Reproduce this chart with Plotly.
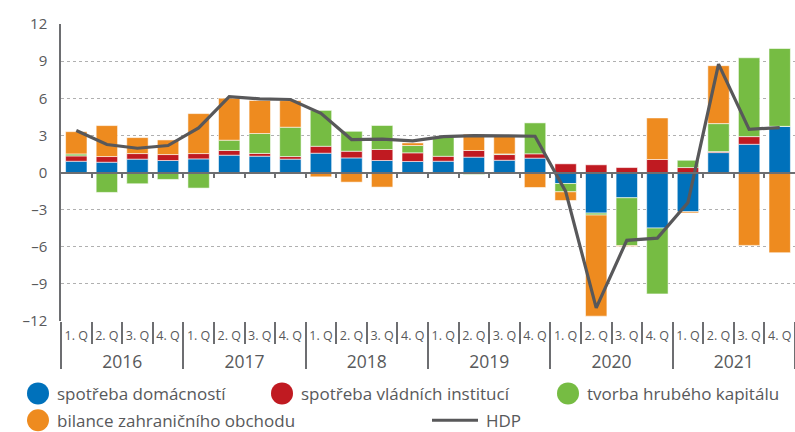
import plotly.graph_objects as go

# Contributions to GDP growth, percentage points
years = ["2016", "2017", "2018", "2019", "2020", "2021"]
quarter_labels = ["1. Q", "2. Q", "3. Q", "4. Q"]

household = [0.91, 0.83, 1.08, 0.97, 1.10, 1.40, 1.32, 1.08, 1.56, 1.18, 0.97, 0.89,
             0.91, 1.24, 0.99, 1.16, -0.89, -3.28, -2.04, -4.49, -3.17, 1.61, 2.28, 3.73]
government = [0.43, 0.46, 0.45, 0.48, 0.43, 0.38, 0.22, 0.21, 0.56, 0.54, 0.89, 0.70,
              0.40, 0.54, 0.46, 0.35, 0.70, 0.62, 0.40, 1.05, 0.40, 0.08, 0.62, 0.00]
capital = [0.16, -1.61, -0.91, -0.56, -1.26, 0.83, 1.61, 2.37, 2.90, 1.61, 1.94, 0.59,
           1.59, -0.16, 0.05, 2.50, -0.67, -0.16, -3.87, -5.32, 0.59, 2.26, 6.37, 6.29]
trade = [1.80, 2.50, 1.29, 1.18, 3.23, 3.40, 2.67, 2.15, -0.35, -0.78, -1.18, 0.21,
         0.00, 1.32, 1.43, -1.21, -0.70, -8.17, -0.06, 3.36, -0.10, 4.68, -5.89, -6.48]
gdp = [3.40, 2.26, 1.96, 2.18, 3.60, 6.13, 5.95, 5.90, 4.78, 2.66, 2.69, 2.55,
       2.90, 2.98, 2.96, 2.93, -1.53, -10.94, -5.48, -5.30, -2.42, 8.76, 3.49, 3.63]

series_names = ["spotřeba domácností", "spotřeba vládních institucí",
                "tvorba hrubého kapitálu", "bilance zahraničního obchodu"]
series_values = [household, government, capital, trade]
series_colors = ["#0071bb", "#c01a21", "#76bc43", "#ee8b1f"]
gdp_name = "HDP"
gdp_color = "#58585a"

y_ticks = [-12, -9, -6, -3, 0, 3, 6, 9, 12]
y_ticktext = [("–" + str(-v)) if v < 0 else str(v) for v in y_ticks]

FONT = "Open Sans"
TEXT = "#58595b"
AXIS = "#6d6e71"

n = len(gdp)
xs = list(range(n))
boundaries = [i - 0.5 for i in range(n + 1)]
year_centers = [4 * i + 1.5 for i in range(len(years))]
year_bounds = [4 * i - 0.5 for i in range(len(years) + 1)]
q_text = [quarter_labels[i % 4] for i in range(n)]

# figure geometry (pixels)
W, H = 795, 432
ML, MR, MT, MB = 61, 0, 24, 110.5
PW, PH = W - ML - MR, H - MT - MB


def px(x):
    return (x - ML) / PW


def py(y):
    return (H - MB - y) / PH


fig = go.Figure()
for name, vals, col in zip(series_names, series_values, series_colors):
    fig.add_trace(go.Bar(
        x=xs, y=vals, name=name, width=0.7,
        marker=dict(color=col, line=dict(color="rgba(255,255,255,0.55)", width=1)),
        showlegend=False,
    ))

# empty carriers so the overlaid helper axes get drawn
for ax in ("x2", "x3"):
    fig.add_trace(go.Scatter(
        x=[0], y=[0], xaxis=ax, yaxis="y", mode="markers",
        marker=dict(opacity=0, size=1), hoverinfo="skip", showlegend=False,
    ))

fig.add_trace(go.Scatter(
    x=xs, y=gdp, name=gdp_name, mode="lines",
    line=dict(color=gdp_color, width=3.2), showlegend=False,
))

fig.update_layout(
    width=W, height=H, barmode="relative", bargap=0.3,
    margin=dict(l=ML, r=MR, t=MT, b=MB, pad=0),
    paper_bgcolor="white", plot_bgcolor="white",
    font=dict(family=FONT, color=TEXT),
    # quarter labels with separators between quarters
    xaxis=dict(
        range=[-0.5, n - 0.5], tickmode="array", tickvals=xs, ticktext=q_text,
        ticks="", tickfont=dict(size=12.5, color=TEXT), ticklabelstandoff=5,
        showgrid=False, zeroline=False, showline=False,
        minor=dict(tickmode="array", tickvals=boundaries, ticks="outside",
                   ticklen=22, tickwidth=1.5, tickcolor=AXIS, showgrid=False),
    ),
    # year labels with long dividers between years
    xaxis2=dict(
        overlaying="x", anchor="y", side="bottom",
        range=[-0.5, n - 0.5], tickmode="array", tickvals=year_centers, ticktext=years,
        ticks="", tickfont=dict(size=17.5, color=TEXT), ticklabelstandoff=28,
        showgrid=False, zeroline=False, showline=False,
        minor=dict(tickmode="array", tickvals=year_bounds, ticks="outside",
                   ticklen=47, tickwidth=1.8, tickcolor=AXIS, showgrid=False),
    ),
    # zero line with small quarter ticks
    xaxis3=dict(
        overlaying="x", anchor="free", position=0.5,
        range=[-0.5, n - 0.5], showticklabels=False, ticks="",
        showgrid=False, zeroline=False, showline=True, linecolor=AXIS, linewidth=2,
        minor=dict(tickmode="array", tickvals=boundaries[1:-1], ticks="outside",
                   ticklen=4, tickwidth=1.5, tickcolor=AXIS, showgrid=False),
    ),
    yaxis=dict(
        range=[-12, 12], tickmode="array", tickvals=y_ticks, ticktext=y_ticktext,
        ticks="", tickfont=dict(size=15, color=TEXT), ticklabelstandoff=9,
        showgrid=True, gridcolor="#b0b0b0", gridwidth=1, griddash="dot",
        zeroline=False, showline=True, linecolor=AXIS, linewidth=1.5,
    ),
)

# legend drawn below the axis
legend_items = [
    (0, 38, 394), (1, 282, 394), (2, 568, 394), (3, 38, 421),
]
for idx, cx, cy in legend_items:
    fig.add_shape(
        type="circle", xref="paper", yref="paper",
        xsizemode="pixel", ysizemode="pixel",
        xanchor=px(cx), yanchor=py(cy), x0=-11, x1=11, y0=-11, y1=11,
        fillcolor=series_colors[idx], line=dict(width=0),
    )
    fig.add_annotation(
        xref="paper", yref="paper", x=px(cx + 17), y=py(cy),
        xanchor="left", yanchor="middle", showarrow=False,
        text=series_names[idx], font=dict(size=17, color=TEXT, family=FONT),
    )
fig.add_shape(
    type="line", xref="paper", yref="paper",
    x0=px(432), x1=px(478), y0=py(421), y1=py(421),
    line=dict(color=gdp_color, width=3),
)
fig.add_annotation(
    xref="paper", yref="paper", x=px(484), y=py(421),
    xanchor="left", yanchor="middle", showarrow=False,
    text=gdp_name, font=dict(size=17, color=TEXT, family=FONT),
)

fig.write_html("out.html")
